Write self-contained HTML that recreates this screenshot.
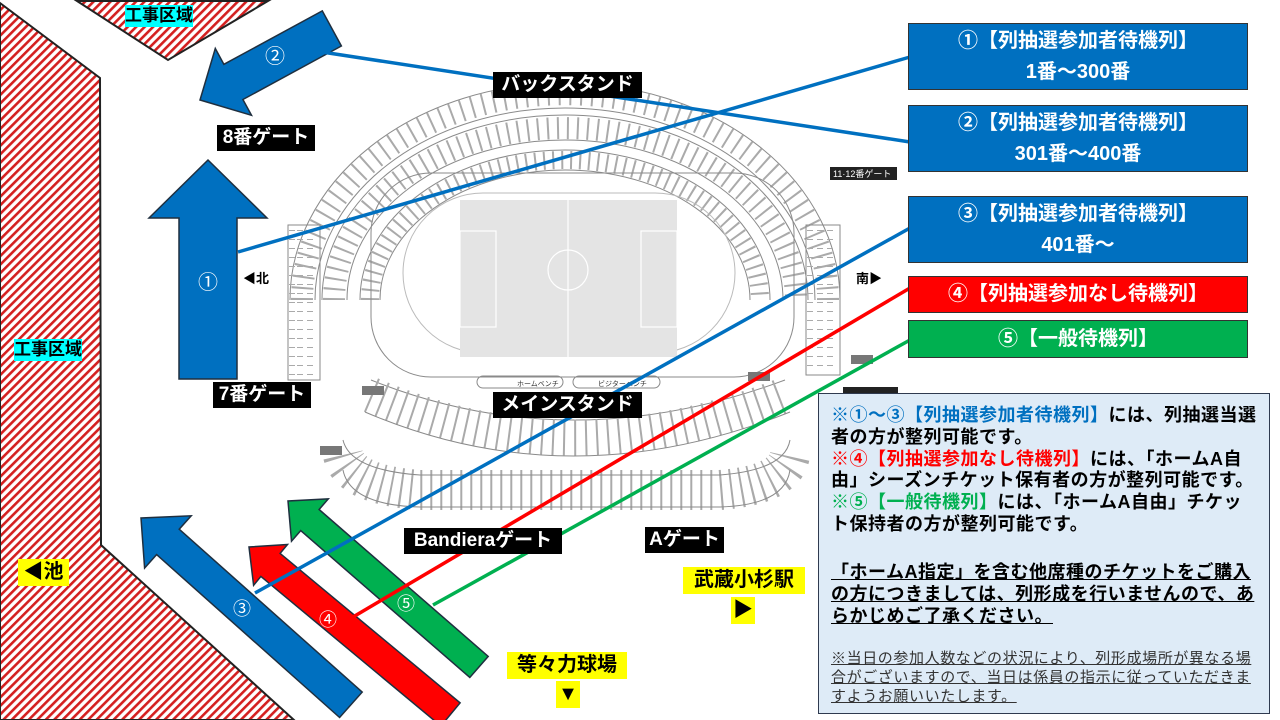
<!DOCTYPE html>
<html><head><meta charset="utf-8">
<style>
html,body{margin:0;padding:0;background:#fff;}
#c{position:relative;width:1280px;height:720px;overflow:hidden;font-family:"Liberation Sans","Noto Sans CJK JP",sans-serif;}
svg{position:absolute;left:0;top:0;}
.lb{position:absolute;background:#000;color:#fff;font-weight:bold;font-size:19px;line-height:26px;white-space:nowrap;text-align:center;}
.yl{position:absolute;background:#ffff00;color:#000;font-weight:bold;font-size:20px;line-height:27px;white-space:nowrap;text-align:center;}
.cy{position:absolute;background:#00ffff;color:#000;font-weight:bold;font-size:17px;line-height:22px;white-space:nowrap;}
.bx{position:absolute;left:908px;width:340px;color:#fff;font-weight:bold;font-size:20px;text-align:center;box-sizing:border-box;border:1px solid #333;white-space:nowrap;}
.info{position:absolute;left:818px;top:393px;width:452px;height:321px;background:#deebf7;border:1.5px solid #2f3a4f;box-sizing:border-box;}
.ln{position:absolute;left:12px;white-space:nowrap;font-weight:bold;font-size:18px;line-height:22px;letter-spacing:0.5px;color:#000;}
.sm{position:absolute;left:12px;white-space:nowrap;font-size:15px;line-height:19px;letter-spacing:0.6px;color:#333;text-decoration:underline;}
.b{color:#0070c0}.r{color:#ff0000}.g{color:#00b050}
</style></head><body><div id="c">
<svg width="1280" height="720" viewBox="0 0 1280 720">
<defs>
<pattern id="h" width="6" height="6" patternUnits="userSpaceOnUse" patternTransform="rotate(45)">
<rect width="6" height="6" fill="#fff"/><rect x="0" width="2.6" height="6" fill="#d42020"/></pattern>
</defs>
<polygon points="0,3 100,78 101,545 294,720 0,720" fill="url(#h)" stroke="#222" stroke-width="2"/>
<polygon points="77,1 268,1 168,60" fill="url(#h)" stroke="#222" stroke-width="2"/>
<g fill="none" stroke="#8a8a8a" stroke-width="1">
<path d="M290,300 A275,217 0 0 1 840,300" />
<path d="M315,300 A250,192 0 0 1 815,300" />
<path d="M302,300 A262,205 0 0 1 828,300" stroke="#aaa" stroke-width="22" stroke-dasharray="2 9"/>
<path d="M322,300 A243,185 0 0 1 808,300" />
<path d="M347,300 A218,160 0 0 1 783,300" />
<path d="M334,300 A231,172 0 0 1 796,300" stroke="#aaa" stroke-width="22" stroke-dasharray="2 8"/>
<path d="M360,300 A205,150 0 0 1 770,300" />
<path d="M380,300 A185,130 0 0 1 750,300" />
<path d="M370,300 A195,140 0 0 1 760,300" stroke="#aaa" stroke-width="18" stroke-dasharray="2 7"/>
<rect x="288" y="225" width="32" height="155" />
<rect x="806" y="225" width="34" height="150" />
<path d="M292,230 V376 M300,230 V376 M310,230 V376 M810,230 V372 M820,230 V372 M830,230 V372" stroke="#aaa" stroke-width="6" stroke-dasharray="1 8"/>
<rect x="371" y="173" width="423" height="204" rx="60"/>
<rect x="403" y="193" width="332" height="160" rx="80" stroke="#bbb"/>
<path d="M371,380 Q570,460 785,380" stroke-width="1"/>
<path d="M371,395 Q570,480 785,395" stroke="#aaa" stroke-width="36" stroke-dasharray="2 9"/>
<path d="M365,412 Q570,500 790,412" />
<path d="M343,455 Q350,485 420,490 L720,490 Q785,485 790,455" stroke="#aaa" stroke-width="40" stroke-dasharray="2 8"/>
<path d="M343,440 Q350,470 420,475 L720,475 Q785,470 790,440" />
<path d="M343,470 Q350,505 420,507 L720,507 Q785,505 790,470" />
<rect x="477" y="376" width="86" height="12" rx="6"/>
<rect x="573" y="376" width="87" height="12" rx="6"/>
</g>
<rect x="460" y="200" width="217" height="157" fill="#e4e4e4"/>
<g fill="none" stroke="#fff" stroke-width="1.2">
<line x1="568" y1="200" x2="568" y2="357"/><circle cx="568" cy="270" r="20"/>
<rect x="460" y="231" width="36" height="96"/><rect x="641" y="231" width="36" height="96"/>
</g>
<text x="517" y="386" font-size="7" fill="#333" font-family="Liberation Sans,Noto Sans CJK JP,sans-serif">ホームベンチ</text>
<text x="598" y="386" font-size="7" fill="#333" font-family="Liberation Sans,Noto Sans CJK JP,sans-serif">ビジターベンチ</text>
<rect x="362" y="386" width="22" height="9" fill="#777"/><rect x="320" y="446" width="22" height="9" fill="#777"/>
<rect x="748" y="372" width="22" height="9" fill="#777"/><rect x="851" y="355" width="22" height="9" fill="#777"/>
<g id="arrows"></g>
<g stroke-width="3.5" fill="none">
<line x1="238" y1="252" x2="910" y2="57" stroke="#0070c0"/>
<line x1="322" y1="52" x2="910" y2="142" stroke="#0070c0"/>
<line x1="255" y1="593" x2="910" y2="228" stroke="#0070c0"/>
<line x1="353" y1="617" x2="910" y2="288" stroke="#ff0000"/>
<line x1="433" y1="605" x2="910" y2="340" stroke="#00b050"/>
</g>
<g font-family="Liberation Sans,Noto Sans CJK JP,sans-serif" fill="#fff" font-size="20" text-anchor="middle">
<text x="208" y="289">①</text><text x="275" y="63">②</text>
<text x="242" y="615" font-size="18">③</text><text x="328" y="626" font-size="18">④</text><text x="406" y="610" font-size="18">⑤</text>
</g>
<g font-family="Liberation Sans,Noto Sans CJK JP,sans-serif" font-size="13" font-weight="bold" fill="#000">
<text x="243" y="283">◀北</text><text x="856" y="283">南▶</text></g>
<rect x="830" y="167" width="67" height="13" fill="#222"/>
<text x="833" y="177" font-size="9" fill="#fff" font-family="Liberation Sans,Noto Sans CJK JP,sans-serif">11·12番ゲート</text>
<rect x="843" y="387" width="55" height="6" fill="#222"/>
</svg>
<div class="cy" style="left:125px;top:5px;">工事区域</div>
<div class="cy" style="left:14px;top:339px;">工事区域</div>
<div class="lb" style="left:493px;top:72px;width:149px;">バックスタンド</div>
<div class="lb" style="left:217px;top:125px;width:98px;">8番ゲート</div>
<div class="lb" style="left:213px;top:382px;width:98px;">7番ゲート</div>
<div class="lb" style="left:493px;top:392px;width:149px;">メインスタンド</div>
<div class="lb" style="left:404px;top:528px;width:158px;">Bandieraゲート</div>
<div class="lb" style="left:645px;top:527px;width:79px;">Aゲート</div>
<div class="yl" style="left:18px;top:559px;width:51px;">◀池</div>
<div class="yl" style="left:507px;top:652px;width:120px;">等々力球場</div>
<div class="yl" style="left:556px;top:681px;width:24px;">▼</div>
<div class="yl" style="left:683px;top:567px;width:122px;">武蔵小杉駅</div>
<div class="yl" style="left:731px;top:597px;width:24px;">▶</div>
<div class="bx" style="top:23px;height:67px;background:#0070c0;line-height:31px;padding-top:2px;">①【列抽選参加者待機列】<br>1番～300番</div>
<div class="bx" style="top:105px;height:67px;background:#0070c0;line-height:31px;padding-top:2px;">②【列抽選参加者待機列】<br>301番～400番</div>
<div class="bx" style="top:196px;height:67px;background:#0070c0;line-height:31px;padding-top:2px;">③【列抽選参加者待機列】<br>401番～</div>
<div class="bx" style="top:276px;height:37px;background:#ff0000;line-height:35px;">④【列抽選参加なし待機列】</div>
<div class="bx" style="top:320px;height:38px;background:#00b050;line-height:36px;">⑤【一般待機列】</div>
<div class="info">
<div class="ln" style="top:10px;"><span class="b">※①～③【列抽選参加者待機列】</span>には、列抽選当選</div>
<div class="ln" style="top:32px;">者の方が整列可能です。</div>
<div class="ln" style="top:54px;"><span class="r">※④【列抽選参加なし待機列】</span>には、「ホームA自</div>
<div class="ln" style="top:75px;">由」シーズンチケット保有者の方が整列可能です。</div>
<div class="ln" style="top:97px;"><span class="g">※⑤【一般待機列】</span>には、「ホームA自由」チケッ</div>
<div class="ln" style="top:119px;">ト保持者の方が整列可能です。</div>
<div class="ln" style="top:167px;text-decoration:underline;">「ホームA指定」を含む他席種のチケットをご購入</div>
<div class="ln" style="top:189px;text-decoration:underline;">の方につきましては、列形成を行いませんので、あ</div>
<div class="ln" style="top:211px;text-decoration:underline;">らかじめご了承ください。</div>
<div class="sm" style="top:255px;">※当日の参加人数などの状況により、列形成場所が異なる場</div>
<div class="sm" style="top:274px;">合がございますので、当日は係員の指示に従っていただきま</div>
<div class="sm" style="top:293px;">すようお願いいたします。</div>
</div>
</div>
<script>
(function(){
var g=document.getElementById('arrows');
function ar(tx,ty,dx,dy,hl,hh,sh,len,col){
 var n=Math.hypot(dx,dy);dx/=n;dy/=n;var px=-dy,py=dx;
 var bx=tx+dx*hl,by=ty+dy*hl,ex=tx+dx*len,ey=ty+dy*len;
 var p=[[tx,ty],[bx+px*hh,by+py*hh],[bx+px*sh,by+py*sh],[ex+px*sh,ey+py*sh],[ex-px*sh,ey-py*sh],[bx-px*sh,by-py*sh],[bx-px*hh,by-py*hh]];
 var e=document.createElementNS('http://www.w3.org/2000/svg','polygon');
 e.setAttribute('points',p.map(function(q){return q[0].toFixed(1)+','+q[1].toFixed(1)}).join(' '));
 e.setAttribute('fill',col);e.setAttribute('stroke','#1f2f3f');e.setAttribute('stroke-width','1.5');
 g.appendChild(e);}
ar(200,100,0.879,-0.477,38,38,20,150,'#0070c0');
ar(208,160,0,1,58,59,29,219,'#0070c0');
ar(141,518,0.747,0.665,36,35,17,281,'#0070c0');
ar(249,547,0.769,0.639,28,26.5,15,262,'#ff0000');
ar(288,501,0.755,0.656,29,28,14,253,'#00b050');
})();
</script>
</body></html>
